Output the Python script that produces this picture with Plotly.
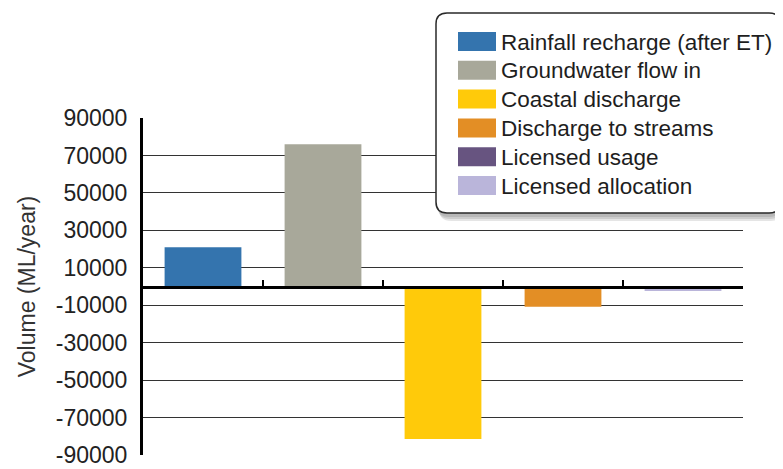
import plotly.graph_objects as go

# water balance components (ML/year)
names = [
    "Rainfall recharge (after ET)",
    "Groundwater flow in",
    "Coastal discharge",
    "Discharge to streams",
    "Licensed usage",
    "Licensed allocation",
]
slots = [1, 2, 3, 4, 5, 5]
volumes = [21000, 76000, -81500, -10800, 0, -2400]
colors = ["#3474AE", "#A8A89A", "#FFCA0A", "#E38E25", "#675480", "#BAB5DA"]
y_ticks = list(range(-90000, 90001, 20000))

# page has an 8px body margin, so the figure is sized to fit inside it
OFF = 8
W, H = 775, 461
L, R, T, B = 135, 40, 110, 14
pw, ph = W - L - R, H - T - B


def fx(px):
    return (px - OFF - L) / pw


def fy(py):
    return (H - B - (py - OFF)) / ph


fig = go.Figure()
for name, slot, vol, col in zip(names, slots, volumes, colors):
    fig.add_trace(go.Bar(x=[slot], y=[vol], name=name, marker_color=col,
                         marker_line_width=0, width=0.64, showlegend=False))


def rounded(x0, y0, x1, y1, r):
    rx, ry = r / pw, r / ph
    a, b, c, d = fx(x0), fy(y0), fx(x1), fy(y1)
    return (f"M{a+rx},{b} L{c-rx},{b} Q{c},{b} {c},{b-ry} L{c},{d+ry} "
            f"Q{c},{d} {c-rx},{d} L{a+rx},{d} Q{a},{d} {a},{d+ry} "
            f"L{a},{b-ry} Q{a},{b} {a+rx},{b} Z")


shapes = []
# soft shadow under the legend box
for dx, dy in [(3, 8), (2, 6), (1, 4)]:
    shapes.append(dict(type="path", xref="paper", yref="paper", layer="above",
                       path=rounded(436 + dx, 13 + dy, 780 + dx, 213 + dy, 12),
                       fillcolor="rgba(0,0,0,0.10)", line_width=0))
shapes.append(dict(type="path", xref="paper", yref="paper", layer="above",
                   path=rounded(436, 13, 780, 213, 11),
                   fillcolor="white", line=dict(color="#2a2a2a", width=1.5)))

annotations = []
for i, (name, col) in enumerate(zip(names, colors)):
    top = 32 + 28.8 * i
    shapes.append(dict(type="rect", xref="paper", yref="paper", layer="above",
                       x0=fx(458), x1=fx(496), y0=fy(top), y1=fy(top + 19),
                       fillcolor=col, line_width=0))
    annotations.append(dict(xref="paper", yref="paper", x=fx(499), y=fy(top + 10),
                            text=name, showarrow=False, xanchor="left",
                            yanchor="middle",
                            font=dict(size=22.5, color="#1e1e1e")))

fig.update_layout(
    width=W, height=H,
    margin=dict(l=L, r=R, t=T, b=B),
    paper_bgcolor="white", plot_bgcolor="white",
    barmode="overlay",
    font=dict(family="Liberation Sans, Arial, sans-serif", color="#222"),
    shapes=shapes,
    annotations=annotations,
    xaxis=dict(range=[0.5, 5.5], tickvals=[0.5, 1.5, 2.5, 3.5, 4.5, 5.5],
               showticklabels=False, showgrid=False, zeroline=False,
               anchor="free", position=0.5, showline=True, linecolor="black",
               linewidth=2.5, ticks="inside", ticklen=6, tickwidth=2,
               tickcolor="black", automargin=False),
    yaxis=dict(range=[-90000, 90000], tickvals=y_ticks,
               ticktext=[str(v) for v in y_ticks], showgrid=True,
               gridcolor="#333", gridwidth=1, zeroline=False, showline=True,
               linecolor="black", linewidth=3, ticks="", ticklabelstandoff=8,
               tickfont=dict(size=23, color="#222"), automargin=False,
               title=dict(text="Volume (ML/year)", standoff=14,
                          font=dict(size=23, color="#333"))),
)

fig.write_html("out.html")
